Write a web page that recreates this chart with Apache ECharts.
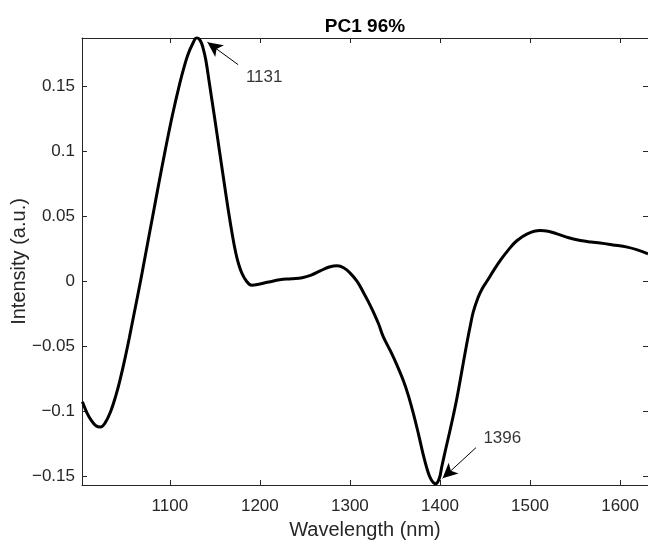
<!DOCTYPE html>
<html>
<head>
<meta charset="utf-8">
<script src="https://cdn.jsdelivr.net/npm/echarts@6/dist/echarts.min.js"></script>
<style>
  html, body { margin: 0; padding: 0; background: #fff; }
  #chart { width: 648px; height: 541px; }
</style>
</head>
<body>
<div id="chart"></div>
<script>
// PC1 loading spectrum
const wavelength = [1003, 1008, 1013, 1018, 1023, 1028, 1034, 1040, 1045, 1050, 1055, 1060, 1068, 1075, 1081, 1088, 1095, 1103, 1111, 1116, 1120, 1125, 1130,
  1134, 1137, 1140, 1144, 1150, 1155, 1160, 1165, 1170, 1173, 1176, 1180, 1185, 1191, 1200, 1210, 1222, 1235, 1247, 1257, 1267, 1277, 1286, 1293,
  1300, 1308, 1315, 1320, 1326, 1332, 1337, 1345, 1352, 1360, 1365, 1371, 1376, 1381, 1386, 1390, 1395, 1399, 1402, 1406, 1411, 1415, 1419,
  1424, 1430, 1434, 1437, 1442, 1447, 1453, 1460, 1468, 1476, 1485, 1497, 1511, 1520, 1530, 1543, 1556, 1568, 1578, 1592, 1608, 1620, 1631];
const intensity = [-0.0925, -0.101, -0.107, -0.111, -0.112, -0.109, -0.1006, -0.088, -0.075, -0.06, -0.0435, -0.026, 0.002, 0.028, 0.05, 0.076, 0.101, 0.128, 0.152, 0.165, 0.174, 0.182, 0.1872,
  0.1848, 0.179, 0.17, 0.152, 0.1245, 0.101, 0.0775, 0.0545, 0.0335, 0.0227, 0.0143, 0.0063, 0.0003, -0.003, -0.002, -0.0005, 0.0012, 0.002, 0.0028, 0.0048, 0.008, 0.011, 0.012, 0.0105,
  0.0065, 0.0, -0.0085, -0.015, -0.0235, -0.033, -0.0425, -0.0535, -0.064, -0.0775, -0.088, -0.103, -0.117, -0.132, -0.145, -0.152, -0.1555, -0.152, -0.1425, -0.13, -0.115, -0.1025, -0.089,
  -0.07, -0.047, -0.033, -0.0235, -0.013, -0.0055, 0.001, 0.0088, 0.017, 0.0242, 0.031, 0.0365, 0.039, 0.0385, 0.0365, 0.0335, 0.0314, 0.0302, 0.0294, 0.028, 0.0263, 0.024, 0.0212];

const xTicks = [1100, 1200, 1300, 1400, 1500, 1600];
const yTicks = [-0.15, -0.1, -0.05, 0, 0.05, 0.1, 0.15];

// peak annotations: label, text position, arrow tail, arrow tip
const peakLabels = ['1131', '1396'];
const peakTextPos = [[1204.8, 0.1565], [1469.2, -0.1204]];
const arrowTail = [[1175.9, 0.1665], [1440, -0.1278]];
const arrowTip = [[1141.8, 0.1837], [1402.9, -0.1514]];

const axisColor = '#262626';
const font = "'Liberation Sans', Arial, Helvetica, sans-serif";
const xMin = 1002.5, xMax = 1631;
const yMin = -0.1565, yMax = 0.187;

const fmtX = (v) => String(v);
const fmtY = (v) => (v === 0 ? '0' : (v < 0 ? '\u2212' : '') + String(Math.abs(v)));

const tickStyle = { show: true, inside: true, length: 5, lineStyle: { color: axisColor, width: 1 } };
const lineStyle = { show: true, onZero: false, lineStyle: { color: axisColor, width: 1 } };

const option = {
  animation: false,
  backgroundColor: '#fff',
  textStyle: { fontFamily: font },
  grid: { left: 82, right: 0, top: 38, bottom: 56, containLabel: false, outerBoundsMode: 'none' },
  xAxis: [
    {
      type: 'value', min: xMin, max: xMax, position: 'bottom',
      axisLine: lineStyle,
      axisTick: Object.assign({ customValues: xTicks }, tickStyle),
      axisLabel: { customValues: xTicks, formatter: fmtX, margin: 13, color: axisColor, fontSize: 17, fontFamily: font },
      splitLine: { show: false },
      name: 'Wavelength (nm)', nameLocation: 'middle', nameGap: 35, nameMoveOverlap: false,
      nameTextStyle: { color: axisColor, fontSize: 20, fontFamily: font }
    },
    {
      type: 'value', min: xMin, max: xMax, position: 'top',
      axisLine: lineStyle,
      axisTick: Object.assign({ customValues: xTicks }, tickStyle),
      axisLabel: { show: false },
      splitLine: { show: false },
      name: 'PC1 96%', nameLocation: 'middle', nameGap: 2, nameMoveOverlap: false,
      nameTextStyle: { color: '#000', fontSize: 19, fontWeight: 'bold', fontFamily: font }
    }
  ],
  yAxis: [
    {
      type: 'value', min: yMin, max: yMax, position: 'left',
      axisLine: lineStyle,
      axisTick: Object.assign({ customValues: yTicks }, tickStyle),
      axisLabel: { customValues: yTicks, formatter: fmtY, margin: 7, color: axisColor, fontSize: 17, fontFamily: font },
      splitLine: { show: false },
      name: 'Intensity (a.u.)', nameLocation: 'middle', nameGap: 53, nameMoveOverlap: false,
      nameTextStyle: { color: axisColor, fontSize: 20, fontFamily: font }
    },
    {
      type: 'value', min: yMin, max: yMax, position: 'right',
      axisLine: lineStyle,
      axisTick: Object.assign({ customValues: yTicks }, tickStyle),
      axisLabel: { show: false },
      splitLine: { show: false }
    }
  ],
  series: [
    {
      name: 'PC1',
      type: 'line',
      data: wavelength.map((w, i) => [w, intensity[i]]),
      showSymbol: false,
      smooth: 0.4,
      lineStyle: { color: '#000', width: 3 },
      itemStyle: { color: '#000' },
      markLine: {
        silent: true,
        symbol: ['none', 'arrow'],
        symbolSize: [11, 15],
        lineStyle: { color: '#000', width: 1, type: 'solid' },
        label: { show: false },
        data: arrowTail.map((t, i) => [{ coord: t }, { coord: arrowTip[i] }])
      }
    },
    {
      name: 'labels',
      type: 'scatter',
      symbolSize: 0,
      data: peakTextPos.map((p, i) => [p[0], p[1], peakLabels[i]]),
      label: {
        show: true, position: 'inside', formatter: (p) => p.value[2],
        color: '#000', fontSize: 17, fontFamily: font
      },
      silent: true
    }
  ]
};

const myChart = echarts.init(document.getElementById('chart'));
myChart.setOption(option);
</script>
</body>
</html>
